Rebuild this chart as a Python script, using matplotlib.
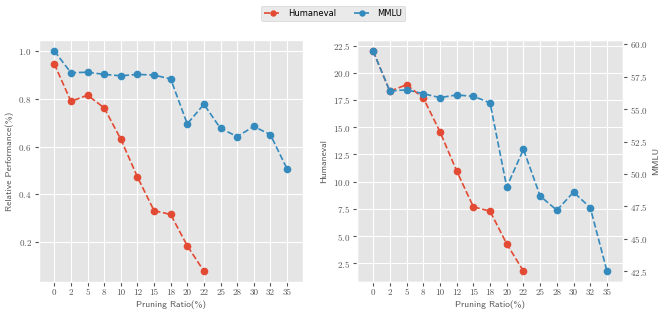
import matplotlib.pyplot as plt

plt.style.use('ggplot')
plt.rcParams['axes.formatter.use_mathtext'] = True

ratios = ['0', '2', '5', '8', '10', '12', '15', '18', '20', '22', '25', '28', '30', '32', '35']

# relative performance
rel_humaneval = [0.946, 0.789, 0.815, 0.762, 0.631, 0.473, 0.332, 0.316, 0.185, 0.079]
rel_mmlu = [1.0, 0.909, 0.911, 0.902, 0.896, 0.902, 0.899, 0.883, 0.695, 0.777,
            0.676, 0.642, 0.684, 0.650, 0.507]

# absolute scores
abs_humaneval = [22.0, 18.3, 18.9, 17.7, 14.6, 11.0, 7.7, 7.3, 4.3, 1.8]
abs_mmlu = [59.5, 56.4, 56.5, 56.2, 55.9, 56.1, 56.0, 55.5, 49.0, 51.9,
            48.3, 47.2, 48.6, 47.4, 42.5]

red = '#E24A33'
blue = '#348ABD'
tick_font = 'cmr10'
label_font = 'cmss10'
lab_kw = dict(family=label_font, fontsize=6.8, color='#555555')
sty = dict(linestyle='--', marker='o', markersize=4.5, linewidth=1.2)

fig = plt.figure(figsize=(6.64, 3.17), dpi=100)
ax1 = fig.add_axes([0.058, 0.11, 0.398, 0.764])
ax2 = fig.add_axes([0.538, 0.11, 0.400, 0.764])

x_all = list(range(len(ratios)))
x_h = list(range(len(rel_humaneval)))

l1, = ax1.plot(x_h, rel_humaneval, color=red, label='Humaneval', **sty)
l2, = ax1.plot(x_all, rel_mmlu, color=blue, label='MMLU', **sty)
ax1.set_ylabel('Relative Performance(%)', labelpad=3, **lab_kw)

ax2.plot(x_h, abs_humaneval, color=red, **sty)
ax2.set_ylabel('Humaneval', labelpad=3, **lab_kw)
ax3 = ax2.twinx()
ax3.plot(x_all, abs_mmlu, color=blue, **sty)
ax3.grid(False)
ax3.set_ylabel('MMLU', labelpad=3, **lab_kw)

for ax in (ax1, ax2):
    ax.set_xticks(x_all)
    ax.set_xticklabels(ratios)
    ax.set_xlim(-0.95, 14.95)
    ax.set_xlabel('Pruning Ratio(%)', labelpad=2, **lab_kw)

ax1.set_yticks([0.2, 0.4, 0.6, 0.8, 1.0])
ax2.set_yticks([2.5, 5.0, 7.5, 10.0, 12.5, 15.0, 17.5, 20.0, 22.5])
ax3.set_yticks([42.5, 45.0, 47.5, 50.0, 52.5, 55.0, 57.5, 60.0])

for ax in (ax1, ax2, ax3):
    for lab in ax.get_xticklabels() + ax.get_yticklabels():
        lab.set_family(tick_font)
        lab.set_fontsize(6.5)
    ax.tick_params(length=3, pad=2)

fig.legend(handles=[l1, l2], loc='upper center', bbox_to_anchor=(0.502, 0.995), ncol=2,
           fontsize=6, frameon=True, handlelength=2.0, columnspacing=2.2,
           markerscale=0.8, borderpad=0.35)

fig.savefig('out.png', dpi=100)
